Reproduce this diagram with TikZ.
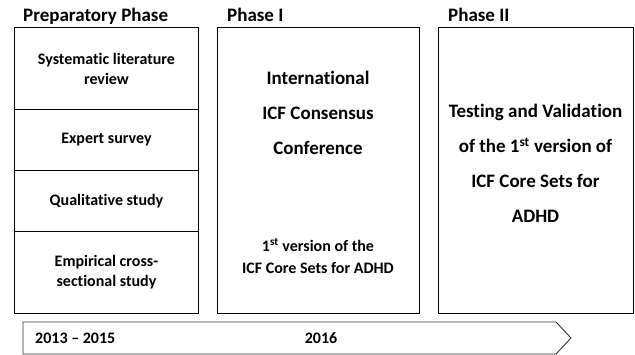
\documentclass[tikz,border=0pt]{standalone}
\usepackage{fontspec}
\setmainfont{Carlito}[Ligatures={NoCommon,NoRare}]
\begin{document}
\begin{tikzpicture}[x=1pt,y=-1pt,
  box/.style={draw=black,line width=0.9pt,rectangle,inner sep=0pt,anchor=north west},
  row/.style={box,minimum width=184pt,align=center,font=\bfseries\fontsize{16}{20}\selectfont},
  title/.style={anchor=base west,inner sep=0pt,font=\bfseries\fontsize{19}{22}\selectfont},
  txt/.style={align=center,inner sep=0pt,font=\bfseries\fontsize{16}{22}\selectfont},
  big/.style={align=center,inner sep=0pt,font=\bfseries\fontsize{19}{35}\selectfont},
  yr/.style={inner sep=0pt,font=\bfseries\fontsize{16}{18}\selectfont}]
\useasboundingbox (0,0) rectangle (635,355);
% titles
\node[title] (tprep) at (23,21.5) {Preparatory Phase};
\node[title] (tp1) at (227,21.5) {Phase I};
\node[title] (tp2) at (448,21.5) {Phase II};
% preparatory column
\node[row,minimum height=82pt] (r1) at (14,27) {Systematic literature\\review};
\node[row,minimum height=61pt] (r2) at (14,109) {Expert survey};
\node[row,minimum height=61pt] (r3) at (14,170) {Qualitative study};
\node[row,minimum height=82pt] (r4) at (14,231) {Empirical cross-\\sectional study};
% phase I
\node[box,minimum width=202pt,minimum height=286pt] (p1) at (217,27) {};
\node[big] (p1a) at (318,112.5) {International\\ICF Consensus\\Conference};
\node[txt] (p1b) at (318,256) {1\textsuperscript{st} version of the\\ICF Core Sets for ADHD};
% phase II
\node[box,minimum width=195pt,minimum height=286pt] (p2) at (438,27) {};
\node[big] (p2a) at (535.5,163.5) {Testing and Validation\\of the 1\textsuperscript{st} version of\\ICF Core Sets for\\ADHD};
% timeline arrow
\coordinate (a1) at (23,322);
\coordinate (a2) at (556,322);
\coordinate (a3) at (571,338);
\coordinate (a4) at (556,354);
\coordinate (a5) at (23,354);
\draw[line width=0.9pt,draw=black!80] (a1) -- (a2) -- (a3) -- (a4) -- (a5) -- cycle;
\node[yr,anchor=west] (y1) at (35,338) {2013 -- 2015};
\node[yr] (y2) at (321,338) {2016};
\end{tikzpicture}
\end{document}
